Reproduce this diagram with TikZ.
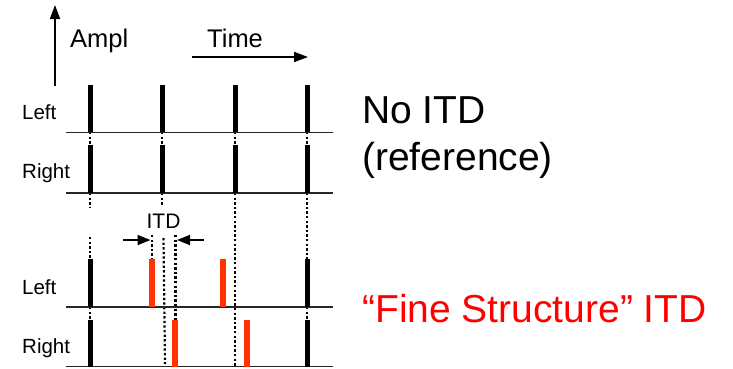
\documentclass[tikz,border=0pt]{standalone}
\usepackage{fontspec}
\setmainfont{Liberation Sans}
\usetikzlibrary{arrows.meta}
\definecolor{pulsered}{RGB}{255,51,0}
\definecolor{textred}{RGB}{255,0,0}
\tikzset{
  base/.style={line width=1.8pt, draw=black!85},
  bpulse/.style={line width=5pt, draw=black},
  rpulse/.style={line width=5.5pt, draw=pulsered},
  dotline/.style={line width=2.2pt, dash pattern=on 2.3pt off 2.3pt, draw=black},
  axisarrow/.style={line width=1.8pt, -{Triangle[length=14pt,width=10pt]}},
  itdarrow/.style={line width=1.8pt, -{Triangle[length=13pt,width=10pt]}},
  lbl/.style={inner sep=0pt, anchor=base west, font=\fontsize{20.5pt}{24pt}\selectfont},
  big/.style={inner sep=0pt, anchor=base west, font=\fontsize{39pt}{44pt}\selectfont},
}
\begin{document}
\begin{tikzpicture}[x=1pt,y=-1pt]
\useasboundingbox (0,0) rectangle (733,368);
% axes
\coordinate (ampA) at (55,86);
\coordinate (ampB) at (55,5);
\draw[axisarrow] (ampA) -- (ampB);
\node[lbl, font=\fontsize{25.5pt}{28pt}\selectfont] (ampl) at (70,47) {Ampl};
\node[lbl, font=\fontsize{25.5pt}{28pt}\selectfont] (time) at (207,47) {Time};
\coordinate (tA) at (192,57);
\coordinate (tB) at (308,57);
\draw[axisarrow] (tA) -- (tB);
% row labels
\node[lbl] (l1) at (22,119) {Left};
\node[lbl] (r1) at (22,178) {Right};
\node[lbl] (l2) at (22,294) {Left};
\node[lbl] (r2) at (22,353) {Right};
% dotted guides
\draw[dotline] (90,132) -- (90,145);
\draw[dotline] (162,132) -- (162,145);
\draw[dotline] (235,132) -- (235,145);
\draw[dotline] (307,132) -- (307,145);
\draw[dotline] (90,193) -- (90,207);
\draw[dotline] (162,193) -- (162,205);
\draw[dotline] (90,237) -- (90,259);
\draw[dotline] (235,193) -- (235,367);
\draw[dotline] (307,193) -- (307,259);
\draw[dotline] (152,235) -- (152,259);
\draw[dotline] (175.5,235) -- (175.5,320);
\draw[dotline] (163.5,238) -- (165,364);
\draw[dotline] (90,307) -- (90,320);
\draw[dotline] (307,307) -- (307,320);
% baselines
\draw[base] (66,132.5) -- (333,132.5);
\draw[base] (66,193) -- (333,193);
\draw[base] (66,307) -- (333,307);
\draw[base] (66,366.5) -- (333,366.5);
% black pulses row 1 and 2
\foreach \x in {90,162,235,307}{
  \draw[bpulse] (\x,85) -- (\x,132);
  \draw[bpulse] (\x,145) -- (\x,193);
}
% row 3
\draw[bpulse] (90,259) -- (90,307);
\draw[bpulse] (307,259) -- (307,307);
\draw[rpulse] (152,259) -- (152,307);
\draw[rpulse] (223,259) -- (223,307);
% row 4
\draw[bpulse] (90,320) -- (90,367);
\draw[bpulse] (307,320) -- (307,367);
\draw[rpulse] (175,320) -- (175,367);
\draw[rpulse] (247,320) -- (247,367);
% ITD
\node[inner sep=0pt, anchor=base, font=\fontsize{21pt}{24pt}\selectfont] (itd) at (163.5,228) {ITD};
\coordinate (iaA) at (123,240);
\coordinate (iaB) at (150.5,240);
\coordinate (ibA) at (204,240);
\coordinate (ibB) at (177,240);
\draw[itdarrow] (iaA) -- (iaB);
\draw[itdarrow] (ibA) -- (ibB);
% right side text
\node[big] (noitd) at (362,123) {No ITD};
\node[big] (ref) at (362,170) {(reference)};
\node[big, text=textred] (fine) at (362,322) {“Fine Structure” ITD};
\end{tikzpicture}
\end{document}
